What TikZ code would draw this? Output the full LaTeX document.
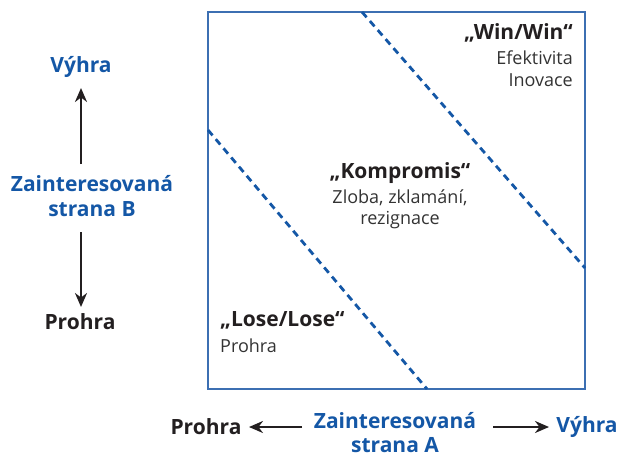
\documentclass[tikz,border=0pt]{standalone}
\usepackage{fontspec}
\setmainfont{Open Sans}
\usetikzlibrary{arrows.meta}
\definecolor{axisblue}{HTML}{1457A6}
\definecolor{framblue}{HTML}{3C6FB2}
\definecolor{txtdark}{HTML}{231F20}
\definecolor{txtgrey}{HTML}{333333}
\tikzset{
  axislabel/.style={font=\fontsize{21}{25}\selectfont\bfseries, inner sep=0pt, align=center},
  winlabel/.style={axislabel, text=axisblue},
  loselabel/.style={axislabel, text=txtdark},
  zonetitle/.style={font=\fontsize{21}{26}\selectfont\bfseries, text=txtdark, inner sep=0pt},
  zonetext/.style={font=\fontsize{18}{22}\selectfont, text=txtgrey, inner sep=0pt},
  axisarrow/.style={line width=2.8pt, txtdark, -{Stealth[length=14pt,width=12pt]}},
  divider/.style={axisblue, line width=2.8pt, dash pattern=on 7pt off 5pt},
}
\begin{document}
\begin{tikzpicture}[x=1pt,y=-1pt]
\useasboundingbox (0,0) rectangle (621,458);

% outcome field
\draw[framblue, line width=1.6pt] (208,12) rectangle (585,389);
\coordinate (d1a) at (362,12);
\coordinate (d1b) at (585,268);
\coordinate (d2a) at (208,130);
\coordinate (d2b) at (427,389);
\draw[divider] (d1a) -- (d1b);
\draw[divider] (d2a) -- (d2b);

% zones
\node[zonetitle, anchor=east] (ww) at (573,33) {„Win/Win“};
\node[zonetext, anchor=east] (ww1) at (573,58) {Efektivita};
\node[zonetext, anchor=east] (ww2) at (573,80) {Inovace};

\node[zonetitle] (ko) at (400,173) {„Kompromis“};
\node[zonetext] (ko1) at (400,198) {Zloba, zklamání,};
\node[zonetext] (ko2) at (400,220) {rezignace};

\node[zonetitle, anchor=west] (ll) at (220,320) {„Lose/Lose“};
\node[zonetext, anchor=west] (ll1) at (220,346) {Prohra};

% party B axis
\node[winlabel] (bwin) at (81,67) {Výhra};
\node[winlabel] (bname) at (92,196) {Zainteresovaná\\strana B};
\node[loselabel] (blose) at (80,322) {Prohra};
\coordinate (bup) at (81,88);
\coordinate (bdown) at (81,307);
\coordinate (bs1) at (81,164);
\coordinate (bs2) at (81,232);
\draw[axisarrow] (bs1) -- (bup);
\draw[axisarrow] (bs2) -- (bdown);

% party A axis
\node[loselabel] (alose) at (206,427) {Prohra};
\node[winlabel, font=\fontsize{21}{24}\selectfont\bfseries] (aname) at (395,433) {Zainteresovaná\\strana A};
\node[winlabel] (awin) at (587,427) {Výhra};
\coordinate (aleft) at (249,427);
\coordinate (aright) at (549,427);
\coordinate (as1) at (302,427);
\coordinate (as2) at (493,427);
\draw[axisarrow] (as1) -- (aleft);
\draw[axisarrow] (as2) -- (aright);
\end{tikzpicture}
\end{document}
